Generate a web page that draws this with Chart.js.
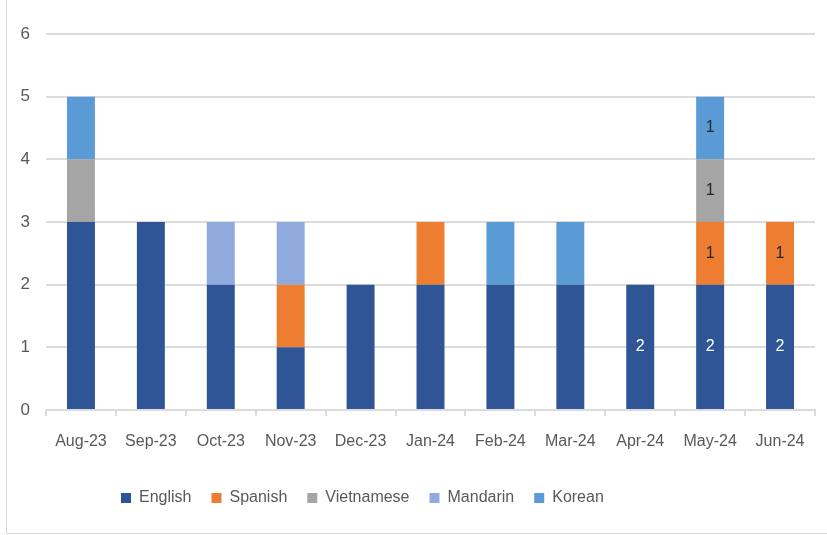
<!DOCTYPE html>
<html>
<head>
<meta charset="utf-8">
<script src="https://cdn.jsdelivr.net/npm/chart.js@4.4.1/dist/chart.umd.min.js"></script>
<style>
  html, body { margin: 0; padding: 0; background: #fff; overflow: hidden; }
  #frame {
    position: absolute; left: 6px; top: -6px;
    width: 900px; height: 538px;
    border: 1px solid #d9d9d9;
  }
  #wrap { position: absolute; left: 0; top: 0; width: 827px; height: 535px; }
</style>
</head>
<body>
<div id="frame"></div>
<div id="wrap"><canvas id="chart"></canvas></div>
<script>
// Mois et valeurs par langue
const months = ['Aug-23', 'Sep-23', 'Oct-23', 'Nov-23', 'Dec-23', 'Jan-24', 'Feb-24', 'Mar-24', 'Apr-24', 'May-24', 'Jun-24'];
const english    = [3, 3, 2, 1, 2, 2, 2, 2, 2, 2, 2];
const spanish    = [0, 0, 0, 1, 0, 1, 0, 0, 0, 1, 1];
const vietnamese = [1, 0, 0, 0, 0, 0, 0, 0, 0, 1, 0];
const mandarin   = [0, 0, 1, 1, 0, 0, 0, 0, 0, 0, 0];
const korean     = [1, 0, 0, 0, 0, 0, 1, 1, 0, 1, 0];
const yTicks = [0, 1, 2, 3, 4, 5, 6];
// seuls ces mois ont des étiquettes de valeur
const labeledMonths = ['Apr-24', 'May-24', 'Jun-24'];

const FONT = '"Liberation Sans", Arial, sans-serif';
const TEXT = '#595959';
const GRID = '#dcdcdc';

const valueLabels = {
  id: 'valueLabels',
  afterDatasetsDraw(chart) {
    const ctx = chart.ctx;
    ctx.save();
    ctx.font = '16px ' + FONT;
    ctx.textAlign = 'center';
    ctx.textBaseline = 'middle';
    chart.data.datasets.forEach((ds, i) => {
      const meta = chart.getDatasetMeta(i);
      meta.data.forEach((bar, j) => {
        if (!labeledMonths.includes(months[j]) || !ds.data[j]) return;
        const p = bar.getProps(['x', 'y', 'base'], true);
        ctx.fillStyle = i === 0 ? '#ffffff' : '#262626';
        ctx.fillText(String(ds.data[j]), p.x, (p.y + p.base) / 2);
      });
    });
    ctx.restore();
  }
};

// décale la légende vers la gauche comme dans Excel
const legendShift = {
  id: 'legendShift',
  afterLayout(chart) {
    const lg = chart.legend;
    if (lg) lg.left = 101;
  }
};

const mk = (label, data, color) => ({
  label, data,
  backgroundColor: color,
  borderWidth: 0,
  categoryPercentage: 0.8,
  barPercentage: 0.5
});

new Chart(document.getElementById('chart'), {
  type: 'bar',
  data: {
    labels: months,
    datasets: [
      mk('English', english, '#2f5597'),
      mk('Spanish', spanish, '#ed7d31'),
      mk('Vietnamese', vietnamese, '#a5a5a5'),
      mk('Mandarin', mandarin, '#8faadc'),
      mk('Korean', korean, '#5b9bd5')
    ]
  },
  options: {
    responsive: true,
    maintainAspectRatio: false,
    animation: false,
    layout: { padding: { top: 34, right: 12, bottom: 19, left: 0 } },
    plugins: {
      tooltip: { enabled: false },
      legend: {
        position: 'bottom',
        align: 'start',
        labels: {
          color: TEXT,
          font: { family: FONT, size: 16 },
          boxWidth: 10,
          boxHeight: 10,
          padding: 20
        }
      }
    },
    scales: {
      x: {
        stacked: true,
        grid: { display: true, drawOnChartArea: false, drawTicks: true, tickLength: 6, color: GRID, lineWidth: 2 },
        border: { display: true, color: GRID, width: 2 },
        ticks: { color: TEXT, font: { family: FONT, size: 16 }, padding: 16, maxRotation: 0 },
        afterFit: s => { s.height = 60; }
      },
      y: {
        stacked: true,
        min: 0,
        max: 6,
        afterBuildTicks: s => { s.ticks = yTicks.map(v => ({ value: v })); },
        grid: { color: GRID, lineWidth: 2, drawTicks: false },
        border: { display: false },
        ticks: { color: TEXT, font: { family: FONT, size: 17 }, padding: 16 },
        afterFit: s => { s.width = 46; }
      }
    }
  },
  plugins: [valueLabels, legendShift]
});
</script>
</body>
</html>
